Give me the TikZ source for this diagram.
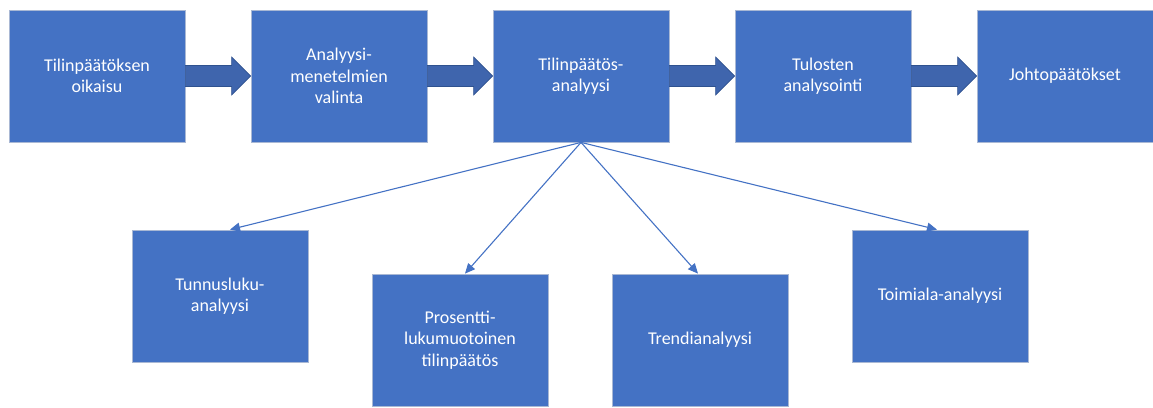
\documentclass[tikz,border=0pt]{standalone}
\usepackage{fontspec}
\setmainfont{Carlito}
\usetikzlibrary{calc,arrows.meta,positioning}

\definecolor{boxblue}{HTML}{4472C4}
\definecolor{boxedge}{HTML}{A9B8D4}
\definecolor{arrowblue}{HTML}{3F65AD}
\definecolor{arrowedge}{HTML}{2F528F}

\tikzset{
  vaihe/.style={rectangle, fill=boxblue, draw=boxedge, line width=0.8pt,
    minimum width=176pt, minimum height=132pt, inner sep=0pt,
    text=white, align=center, font=\fontsize{18}{21.5}\selectfont},
  nuoli/.style={fill=arrowblue, draw=arrowedge, line width=0.6pt, line join=miter},
  linkki/.style={draw=boxblue, line width=1.1pt, -{Triangle[length=10pt,width=9pt]}}
}

\begin{document}
\begin{tikzpicture}[x=1pt, y=-1pt]
		\useasboundingbox (0,0) rectangle (1153,407);

		% Ylärivi: prosessin vaiheet
		\node[vaihe] (oik) at (97,76) {Tilinpäätöksen\\oikaisu};
		\node[vaihe] (val) at (339,76) {Analyysi-\\menetelmien\\valinta};
		\node[vaihe] (ana) at (581,76) {Tilinpäätös-\\analyysi};
		\node[vaihe] (tul) at (823,76) {Tulosten\\analysointi};
		\node[vaihe] (joh) at (1065,76) {Johtopäätökset};

		% Alarivi: analyysimenetelmät
		\node[vaihe] (tun) at (220,296) {Tunnusluku-\\analyysi};
		\node[vaihe] (pro) at (460,340) {Prosentti-\\lukumuotoinen\\tilinpäätös};
		\node[vaihe] (tre) at (700,340) {Trendianalyysi};
		\node[vaihe] (toi) at (940,296) {Toimiala-analyysi};

		% Paksut nuolet vaiheiden välissä
		\foreach \a/\b in {oik/val, val/ana, ana/tul, tul/joh}
			\draw[nuoli] ($(\a.east)+(0,-10.5)$) -- ($(\b.west)+(-19,-10.5)$) -- ($(\b.west)+(-19,-19)$)
				-- (\b.west) -- ($(\b.west)+(-19,19)$) -- ($(\b.west)+(-19,10.5)$) -- ($(\a.east)+(0,10.5)$) -- cycle;

		% Ohuet nuolet analyysista menetelmiin
		\draw[linkki] (ana.south) -- ([xshift=10pt]tun.north);
		\draw[linkki] (ana.south) -- ([xshift=5pt]pro.north);
		\draw[linkki] (ana.south) -- ([xshift=-2pt]tre.north);
		\draw[linkki] (ana.south) -- ([xshift=-3pt]toi.north);
	\end{tikzpicture}
\end{document}
